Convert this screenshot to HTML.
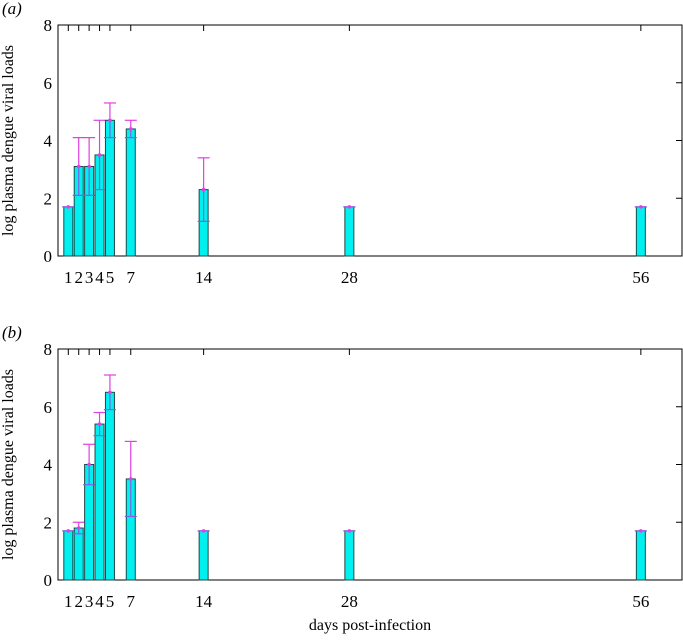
<!DOCTYPE html>
<html><head><meta charset="utf-8"><style>
body{margin:0;background:#fff;}
svg text{font-family:"Liberation Serif",serif;fill:#000;}
</style></head><body>
<svg id="chart" width="683" height="636" viewBox="0 0 683 636" xmlns="http://www.w3.org/2000/svg"></svg>
<script>
const days = [1,2,3,4,5,7,14,28,56];
const tickLabels = ["1","2","3","4","5","7","14","28","56"];
const yTicks = [0,2,4,6,8];
const meanA = [1.7,3.1,3.1,3.5,4.7,4.4,2.3,1.7,1.7];
const upperA = [1.7,4.1,4.1,4.7,5.3,4.7,3.4,1.7,1.7];
const lowerA = [1.7,2.1,2.1,2.3,4.1,4.1,1.2,1.7,1.7];
const meanB = [1.7,1.8,4.0,5.4,6.5,3.5,1.7,1.7,1.7];
const upperB = [1.7,2.0,4.7,5.8,7.1,4.8,1.7,1.7,1.7];
const lowerB = [1.7,1.6,3.3,5.0,5.9,2.2,1.7,1.7,1.7];

const svg = document.getElementById('chart');
const NS = 'http://www.w3.org/2000/svg';
function mk(tag, attrs, parent){const e=document.createElementNS(NS,tag);for(const k in attrs)e.setAttribute(k,attrs[k]);(parent||svg).appendChild(e);return e;}
const L=58, R=682;
const xs = d => 68.3 + (d-1)*10.41;

function panel(name, top, bottom, mean, upper, lower, label){
  const g = mk('g',{});
  
  
  const ys = v => bottom - v/8*(bottom-top);
  const f = mk('rect',{x:L,y:top,width:R-L,height:bottom-top,fill:'none',stroke:'#000','stroke-width':1},g);
  
  
  yTicks.forEach(t=>{
    const y=ys(t);
    const tx=mk('text',{x:L-6,y:y+6,'text-anchor':'end','font-size':17},g);
    tx.textContent=t;
    
    
    if(t>0&&t<8){mk('line',{x1:R-6,x2:R,y1:y,y2:y,stroke:'#000'},g);}
  });
  days.forEach((d,i)=>{
    const x=xs(d);
    mk('line',{x1:x,x2:x,y1:top,y2:top+6,stroke:'#000'},g);
    const tl=mk('text',{x:x,y:bottom+27,'text-anchor':'middle','font-size':17},g);
    tl.textContent=tickLabels[i];
    
    
    const b=mk('rect',{x:x-4.5,y:ys(mean[i]),width:9,height:bottom-ys(mean[i]),fill:'#00f0f0',stroke:'#1a4a4a','stroke-width':1},g);
    
    
    const eb=mk('g',{stroke:'#e040e0','stroke-width':1.2},g);
    
    
    mk('line',{x1:x,x2:x,y1:ys(upper[i]),y2:ys(mean[i])},eb);
    mk('line',{x1:x-6,x2:x+6,y1:ys(upper[i]),y2:ys(upper[i])},eb);
    mk('line',{x1:x,x2:x,y1:ys(mean[i]),y2:ys(lower[i]),stroke:'#8060e0'},eb);
    mk('line',{x1:x-6,x2:x+6,y1:ys(lower[i]),y2:ys(lower[i]),stroke:'#8060e0'},eb);
    mk('circle',{cx:x,cy:ys(mean[i]),r:1.8,fill:'#e040e0',stroke:'none'},eb);
  });
  const yt=mk('text',{transform:`translate(13,${(top+bottom)/2}) rotate(-90)`,'text-anchor':'middle','font-size':16},g);
  yt.textContent='log plasma dengue viral loads';
  
  
  const pl=mk('text',{x:2,y:top-11,'font-size':17,'font-style':'italic'},g);
  pl.textContent=label;
  
  
}
panel('panel-a',25,256,meanA,upperA,lowerA,'(a)');
panel('panel-b',349,580,meanB,upperB,lowerB,'(b)');
const xt=mk('text',{x:370,y:630,'text-anchor':'middle','font-size':16});
xt.textContent='days post-infection';


</script>
</body></html>
